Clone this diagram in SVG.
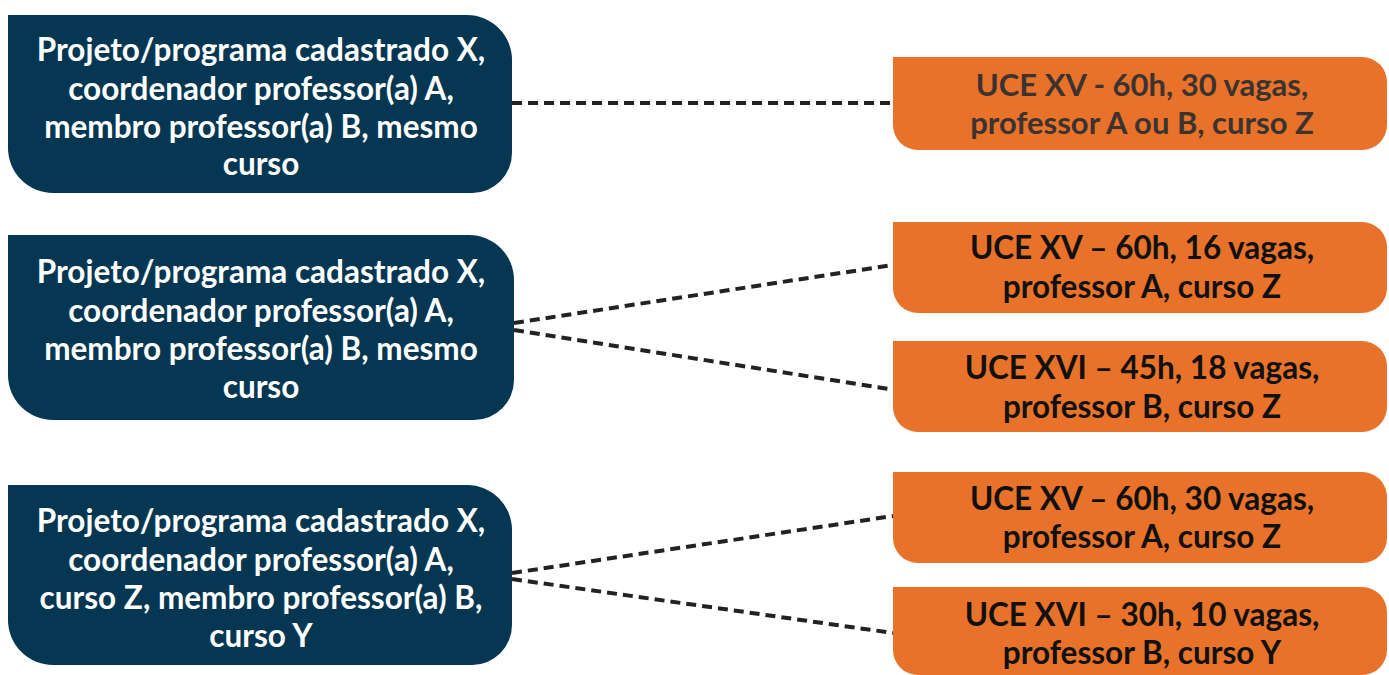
<svg xmlns="http://www.w3.org/2000/svg" width="1389" height="675" viewBox="0 0 1389 675">
<style>
.dark{fill:#053752}
.or{fill:#E8722A}
.tw{font-family:Lato,"Liberation Sans",sans-serif;font-weight:bold;font-size:31.5px;fill:#ffffff;text-anchor:middle}
.tb{font-family:Lato,"Liberation Sans",sans-serif;font-weight:bold;font-size:31.5px;fill:#111111;text-anchor:middle}
.tg{font-family:Lato,"Liberation Sans",sans-serif;font-weight:bold;font-size:31px;fill:#3a3330;text-anchor:middle}
.con{stroke:#222;stroke-width:4;stroke-dasharray:10 6;fill:none}
</style>
<rect width="1389" height="675" fill="#ffffff"/>
<g id="connectors">
<line class="con" x1="512" y1="103" x2="893" y2="103"/>
<line class="con" x1="514" y1="323" x2="893" y2="265"/>
<line class="con" x1="514" y1="330" x2="895" y2="390"/>
<line class="con" x1="512" y1="573" x2="893" y2="516"/>
<line class="con" x1="512" y1="579" x2="893" y2="633"/>
</g>
<g id="n1">
<path class="dark" d="M8 15 H467 A45 45 0 0 1 512 60 V153 A40 40 0 0 1 472 193 H53 A45 45 0 0 1 8 148 Z"/>
<text class="tw" x="261" y="61">Projeto/programa cadastrado X,</text>
<text class="tw" x="261" y="100">coordenador professor(a) A,</text>
<text class="tw" x="261" y="138">membro professor(a) B, mesmo</text>
<text class="tw" x="261" y="175">curso</text>
</g>
<g id="n2">
<path class="dark" d="M8 235 H469 A45 45 0 0 1 514 280 V380 A40 40 0 0 1 474 420 H53 A45 45 0 0 1 8 375 Z"/>
<text class="tw" x="261" y="283">Projeto/programa cadastrado X,</text>
<text class="tw" x="261" y="322">coordenador professor(a) A,</text>
<text class="tw" x="261" y="360">membro professor(a) B, mesmo</text>
<text class="tw" x="261" y="398">curso</text>
</g>
<g id="n3">
<path class="dark" d="M8 485 H467 A45 45 0 0 1 512 530 V625 A40 40 0 0 1 472 665 H53 A45 45 0 0 1 8 620 Z"/>
<text class="tw" x="261" y="532">Projeto/programa cadastrado X,</text>
<text class="tw" x="261" y="571">coordenador professor(a) A,</text>
<text class="tw" x="261" y="609">curso Z, membro professor(a) B,</text>
<text class="tw" x="261" y="647">curso Y</text>
</g>
<g id="o1">
<path class="or" d="M893 57 H1362 A25 25 0 0 1 1387 82 V125 A25 25 0 0 1 1362 150 H918 A25 25 0 0 1 893 125 Z"/>
<text class="tg" x="1142" y="96">UCE XV - 60h, 30 vagas,</text>
<text class="tg" x="1142" y="134">professor A ou B, curso Z</text>
</g>
<g id="o2">
<path class="or" d="M893 222 H1362 A25 25 0 0 1 1387 247 V288 A25 25 0 0 1 1362 313 H918 A25 25 0 0 1 893 288 Z"/>
<text class="tb" x="1142" y="259">UCE XV – 60h, 16 vagas,</text>
<text class="tb" x="1142" y="298">professor A, curso Z</text>
</g>
<g id="o3">
<path class="or" d="M893 341 H1362 A25 25 0 0 1 1387 366 V407 A25 25 0 0 1 1362 432 H918 A25 25 0 0 1 893 407 Z"/>
<text class="tb" x="1142" y="379">UCE XVI – 45h, 18 vagas,</text>
<text class="tb" x="1142" y="418">professor B, curso Z</text>
</g>
<g id="o4">
<path class="or" d="M893 472 H1362 A25 25 0 0 1 1387 497 V538 A25 25 0 0 1 1362 563 H918 A25 25 0 0 1 893 538 Z"/>
<text class="tb" x="1142" y="510">UCE XV – 60h, 30 vagas,</text>
<text class="tb" x="1142" y="548">professor A, curso Z</text>
</g>
<g id="o5">
<path class="or" d="M893 587 H1362 A25 25 0 0 1 1387 612 V650 A25 25 0 0 1 1362 675 H918 A25 25 0 0 1 893 650 Z"/>
<text class="tb" x="1142" y="626">UCE XVI – 30h, 10 vagas,</text>
<text class="tb" x="1142" y="664">professor B, curso Y</text>
</g>
</svg>
